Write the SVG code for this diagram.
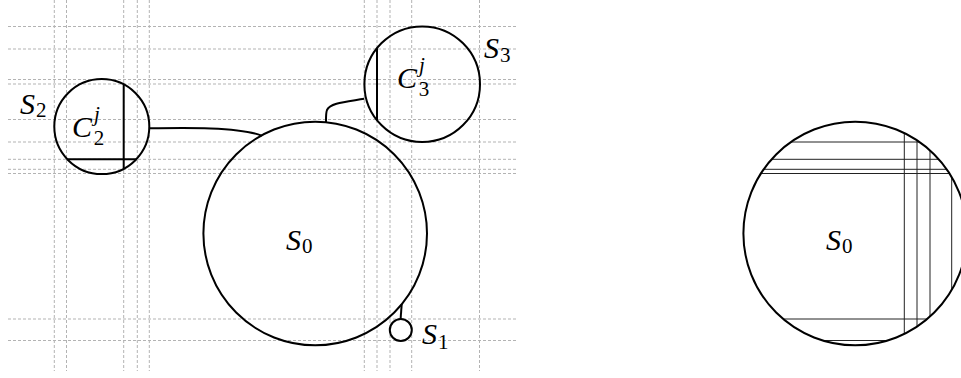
<svg xmlns="http://www.w3.org/2000/svg" width="961" height="378" viewBox="0 0 961 378">
  <style>
    .grid { stroke: #b3b3b3; stroke-width: 1; stroke-dasharray: 3 2; fill: none; }
    .node { fill: none; stroke: #000; stroke-width: 2; }
    .chord { stroke: #000; stroke-width: 2; fill: none; }
    .edge { stroke: #000; stroke-width: 2; fill: none; }
    .thin { stroke: #222; stroke-width: 1; fill: none; }
    .lbl { font-family: "Liberation Serif", "DejaVu Serif", serif; font-size: 30px; font-style: italic; fill: #000; }
    .sub { font-family: "Liberation Serif", "DejaVu Serif", serif; font-size: 21px; font-style: normal; fill: #000; }
    .sup { font-family: "Liberation Serif", "DejaVu Serif", serif; font-size: 21px; font-style: italic; fill: #000; }
  </style>
  <defs>
    <clipPath id="clipR">
      <circle cx="855.2" cy="233.5" r="111.8"/>
    </clipPath>
  </defs>

  <g id="grid">
    <line class="grid" x1="8" y1="26.5" x2="518" y2="26.5"/>
    <line class="grid" x1="8" y1="49" x2="518" y2="49"/>
    <line class="grid" x1="8" y1="79.5" x2="518" y2="79.5"/>
    <line class="grid" x1="8" y1="84" x2="518" y2="84"/>
    <line class="grid" x1="8" y1="119.5" x2="518" y2="119.5"/>
    <line class="grid" x1="8" y1="142" x2="518" y2="142"/>
    <line class="grid" x1="8" y1="159.3" x2="518" y2="159.3"/>
    <line class="grid" x1="8" y1="169.3" x2="518" y2="169.3"/>
    <line class="grid" x1="8" y1="173.5" x2="518" y2="173.5"/>
    <line class="grid" x1="8" y1="319" x2="518" y2="319"/>
    <line class="grid" x1="8" y1="340.5" x2="518" y2="340.5"/>
    <line class="grid" x1="54.3" y1="0" x2="54.3" y2="371"/>
    <line class="grid" x1="66.5" y1="0" x2="66.5" y2="371"/>
    <line class="grid" x1="123.7" y1="0" x2="123.7" y2="371"/>
    <line class="grid" x1="137.3" y1="0" x2="137.3" y2="371"/>
    <line class="grid" x1="149.3" y1="0" x2="149.3" y2="371"/>
    <line class="grid" x1="364.3" y1="0" x2="364.3" y2="371"/>
    <line class="grid" x1="377" y1="0" x2="377" y2="371"/>
    <line class="grid" x1="390" y1="0" x2="390" y2="371"/>
    <line class="grid" x1="411.7" y1="0" x2="411.7" y2="371"/>
    <line class="grid" x1="479.5" y1="0" x2="479.5" y2="371"/>
  </g>

  <g id="connectors">
    <path class="edge" d="M149.3,128.3 C185,127.6 240,126.8 261.7,135.7"/>
    <path class="edge" d="M364.3,98.8 C345,102 330,103 327,110 C325.8,113 326,118 326,122.5"/>
    <path class="edge" d="M400.6,319 L401.7,304.3"/>
  </g>

  <g id="S0">
    <circle class="node" cx="315.2" cy="233.5" r="111.8"/>
    <text class="lbl" x="286" y="250">S<tspan class="sub" dx="1" dy="3">0</tspan></text>
  </g>

  <g id="S1">
    <circle class="node" cx="400.8" cy="330" r="11"/>
    <text class="lbl" x="422" y="344">S<tspan class="sub" dx="1" dy="5">1</tspan></text>
  </g>

  <g id="S2">
    <circle class="node" cx="101.8" cy="126.6" r="47.5"/>
    <line class="chord" x1="123.7" y1="84.5" x2="123.7" y2="168.7"/>
    <line class="chord" x1="67.2" y1="159.2" x2="136.4" y2="159.2"/>
    <text class="lbl" x="20" y="114">S<tspan class="sub" dx="1" dy="3">2</tspan></text>
    <text class="lbl" x="72" y="136.5">C<tspan class="sup" dx="2" dy="-16">j</tspan><tspan class="sub" dx="-6" dy="24">2</tspan></text>
  </g>

  <g id="S3">
    <circle class="node" cx="422.2" cy="84.2" r="57.8"/>
    <line class="chord" x1="377" y1="48.3" x2="377" y2="120.1"/>
    <text class="lbl" x="484" y="58">S<tspan class="sub" dx="1" dy="4">3</tspan></text>
    <text class="lbl" x="397" y="88">C<tspan class="sup" dx="2" dy="-16">j</tspan><tspan class="sub" dx="-6" dy="24">3</tspan></text>
  </g>

  <g id="S0-copy">
    <g clip-path="url(#clipR)">
      <line class="thin" x1="740" y1="142" x2="970" y2="142"/>
      <line class="thin" x1="740" y1="159.3" x2="970" y2="159.3"/>
      <line class="thin" x1="740" y1="169.3" x2="970" y2="169.3"/>
      <line class="thin" x1="740" y1="173.5" x2="970" y2="173.5"/>
      <line class="thin" x1="740" y1="319" x2="970" y2="319"/>
      <line class="thin" x1="740" y1="340.5" x2="970" y2="340.5"/>
      <line class="thin" x1="904.3" y1="115" x2="904.3" y2="350"/>
      <line class="thin" x1="917" y1="115" x2="917" y2="350"/>
      <line class="thin" x1="930" y1="115" x2="930" y2="350"/>
      <line class="thin" x1="951.7" y1="115" x2="951.7" y2="350"/>
    </g>
    <circle class="node" cx="855.2" cy="233.5" r="111.8"/>
    <text class="lbl" x="826" y="250">S<tspan class="sub" dx="1" dy="3">0</tspan></text>
  </g>
</svg>
